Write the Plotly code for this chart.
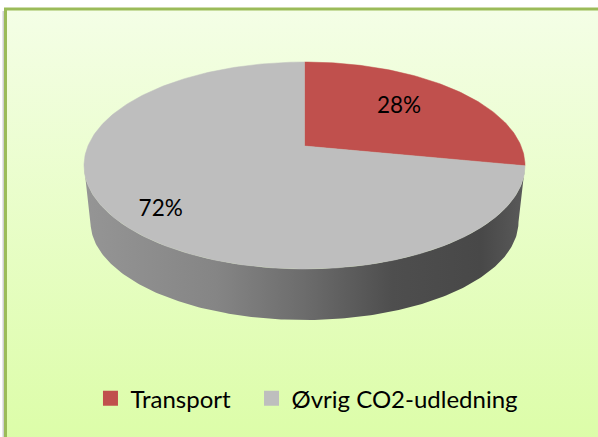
import math
import plotly.graph_objects as go

categories = ["Transport", "Øvrig CO2-udledning"]
values = [28, 72]
colors = ["#C0504D", "#BEBEBE"]
label_fx = [0.64, 0.763]
label_fy = [0.675, 0.88]
legend_x = [0.1513, 0.4206]
W, H = 598, 437

# Perspective geometry of the tilted disc (pixel-like axis units)
TOP = dict(cx=304.5, cy=165.5, rx=220.5, ry=103.5)
BOT = dict(cx=304.5, cy=222.0, rx=214.0, ry=98.0)
APEX = (304.5, 146.0)


def ray_point(theta):
    """Where the ray for a pie angle (clockwise from 12 o'clock) meets the top ellipse."""
    dx = TOP["rx"] * math.sin(theta)
    dy = -TOP["ry"] * math.cos(theta)
    ox, oy = APEX[0] - TOP["cx"], APEX[1] - TOP["cy"]
    a = (dx / TOP["rx"]) ** 2 + (dy / TOP["ry"]) ** 2
    b = 2 * (ox * dx / TOP["rx"] ** 2 + oy * dy / TOP["ry"] ** 2)
    c = (ox / TOP["rx"]) ** 2 + (oy / TOP["ry"]) ** 2 - 1
    s = (-b + math.sqrt(b * b - 4 * a * c)) / (2 * a)
    return APEX[0] + s * dx, APEX[1] + s * dy


def wedge(a0, a1, n=160):
    pts = [APEX]
    for i in range(n + 1):
        pts.append(ray_point(a0 + (a1 - a0) * i / n))
    pts.append(APEX)
    return [p[0] for p in pts], [p[1] for p in pts]


def ell(e, t):
    return e["cx"] + e["rx"] * math.cos(t), e["cy"] + e["ry"] * math.sin(t)


fig = go.Figure()

# Panel background with vertical gradient
fig.add_trace(go.Scatter(
    x=[6.5, W + 5, W + 5, 6.5, 6.5], y=[9.5, 9.5, H + 5, H + 5, 9.5],
    mode="lines", fill="toself", line=dict(color="rgba(0,0,0,0)", width=0),
    fillgradient=dict(type="vertical", colorscale=[[0, "#DCFDA8"], [1, "#F4FEE6"]]),
    hoverinfo="skip", showlegend=False,
))

# Side wall
N = 200
upper = [ell(TOP, math.pi * i / N) for i in range(N + 1)]
lower = [ell(BOT, math.pi * (1 - i / N)) for i in range(N + 1)]
side = upper + lower + [upper[0]]
fig.add_trace(go.Scatter(
    x=[p[0] for p in side], y=[p[1] for p in side],
    mode="lines", fill="toself", line=dict(color="rgba(0,0,0,0)", width=0),
    fillgradient=dict(type="horizontal", colorscale=[
        [0, "#959595"], [0.3, "#858585"], [0.5, "#6C6C6C"], [0.7, "#4E4E4E"], [0.9, "#484848"], [1, "#5A5A5A"],
    ]),
    hoverinfo="skip", showlegend=False,
))

# Slices drawn from the values
total = sum(values)
a = 0.0
for name, v, c, fx, fy in zip(categories, values, colors, label_fx, label_fy):
    a1 = a + 2 * math.pi * v / total
    x, y = wedge(a, a1, n=max(40, int(400 * v / total)))
    fig.add_trace(go.Scatter(
        x=x, y=y, mode="lines", fill="toself", fillcolor=c,
        line=dict(color=c, width=0.5), hoverinfo="skip", showlegend=False,
    ))
    # Percent label
    mid = (a + a1) / 2
    px, py = ray_point(mid)
    fig.add_trace(go.Scatter(
        x=[APEX[0] + (px - APEX[0]) * fx], y=[APEX[1] + (py - APEX[1]) * fy],
        mode="text", text=[f"{v}%"], textposition="middle center",
        textfont=dict(family="Lato", size=22.5, color="#000000"),
        hoverinfo="skip", showlegend=False,
    ))
    a = a1

# Legend entries: one legend per category so the gap between them can be set
for i, (name, c) in enumerate(zip(categories, colors)):
    fig.add_trace(go.Scatter(
        x=[None], y=[None], mode="markers", name=name,
        marker=dict(symbol="square", size=15, color=c),
        legend="legend" if i == 0 else "legend2",
    ))


def legend_at(x):
    return dict(
        orientation="h", x=x, xanchor="left", y=0.088, yanchor="middle",
        font=dict(family="Lato", size=24, color="#000000"),
        bgcolor="rgba(0,0,0,0)", itemwidth=30,
    )


fig.update_layout(
    width=W, height=H, margin=dict(l=0, r=0, t=0, b=0),
    paper_bgcolor="#FFFFFF", plot_bgcolor="#FFFFFF",
    xaxis=dict(range=[0, W], visible=False, fixedrange=True),
    yaxis=dict(range=[H, 0], visible=False, fixedrange=True),
    legend=legend_at(legend_x[0]),
    legend2=legend_at(legend_x[1]),
    shapes=[
        dict(type="line", x0=3.5, x1=3.5, y0=11, y1=H, line=dict(color="#D0D0D0", width=2), layer="above"),
        dict(type="line", x0=5.5, x1=5.5, y0=8, y1=H, line=dict(color="#9BBB59", width=3), layer="above"),
        dict(type="line", x0=4, x1=W, y0=9, y1=9, line=dict(color="#9BBB59", width=3), layer="above"),
    ],
)
fig.write_html(
    "out.html", config=dict(displayModeBar=False),
    post_script="document.body.style.margin='0';document.body.style.overflow='hidden';",
)
